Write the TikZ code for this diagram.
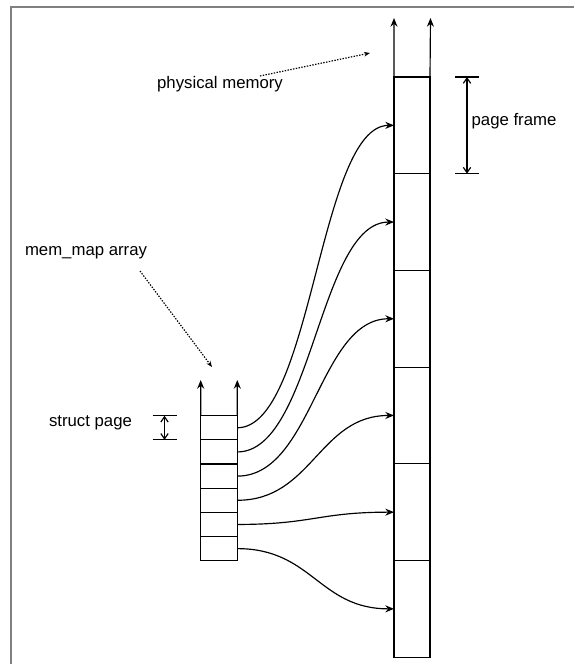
\documentclass[tikz,border=0pt]{standalone}
\usepackage{fontspec}
\setmainfont{Liberation Sans}
\usetikzlibrary{arrows.meta}
\tikzset{
  cell/.style={draw,line width=1pt,minimum width=1.1cm,minimum height=0.726cm,inner sep=0pt,outer sep=0pt},
  frame/.style={draw,line width=1pt,minimum width=1.08cm,minimum height=2.9cm,inner sep=0pt,outer sep=0pt},
  link/.style={->,line width=1pt},
  pointer/.style={-{Stealth[length=1.8mm,width=1.4mm]},dash pattern=on 1.2pt off 1.2pt,line width=1pt},
  dimline/.style={<->,>={Straight Barb[length=1.6mm,width=2.2mm]},line width=1pt},
  txt/.style={font=\fontsize{14.3}{17}\selectfont,inner sep=0pt}
}
\begin{document}
\begin{tikzpicture}[>={Stealth[length=2.6mm,width=2.1mm]},x=0.03cm,y=-0.03cm]
\useasboundingbox (0,0) rectangle (574,664);
\draw[gray,line width=1.7pt] (11,664) -- (11,7) -- (574,7); % outer border
% physical memory
\foreach \i in {1,...,6}
  \node[frame] (frame\i) at (412,{28.65+96.7*\i}) {};
\coordinate (memtl) at (394,18); \coordinate (memtr) at (430.5,18);
\draw[->,line width=1pt] (frame1.north west) -- (memtl);
\draw[->,line width=1pt] (frame1.north east) -- (memtr);
% mem_map array
\foreach \i in {1,...,6}
  \node[cell] (row\i) at (219,{403.6+24.17*\i}) {};
\coordinate (maptl) at (200.7,380); \coordinate (maptr) at (237.3,380);
\draw[->,line width=1pt] (row1.north west) -- (maptl);
\draw[->,line width=1pt] (row1.north east) -- (maptr);
% struct page -> page frame
\foreach \i in {1,...,6}
  \draw[link] (row\i.east) .. controls +(75,0) and +(-75,0) .. (frame\i.west);
% labels
\node[txt] (physlabel) at (220,84) {physical memory};
\node[txt] (maplabel) at (86,253) {mem\_map array};
\node[txt] (pagelabel) at (514,121) {page frame};
\node[txt] (structlabel) at (90.5,423) {struct page};
\coordinate (physfrom) at (260,76); \coordinate (physto) at (370,53);
\draw[pointer] (physfrom) -- (physto);
\coordinate (mapfrom) at (140,271); \coordinate (mapto) at (212,367);
\draw[pointer] (mapfrom) -- (mapto);
% dimension marks
\coordinate (pfa) at (467,77); \coordinate (pfb) at (467,173.7);
\draw[line width=1pt] (455,77) -- (479,77) (455,173.7) -- (479,173.7);
\draw[dimline] (pfa) -- (pfb);
\coordinate (spa) at (164.5,415.7); \coordinate (spb) at (164.5,439.9);
\draw[line width=1pt] (152.7,415.7) -- (176.7,415.7) (152.7,439.9) -- (176.7,439.9);
\draw[dimline] (spa) -- (spb);
\end{tikzpicture}
\end{document}
